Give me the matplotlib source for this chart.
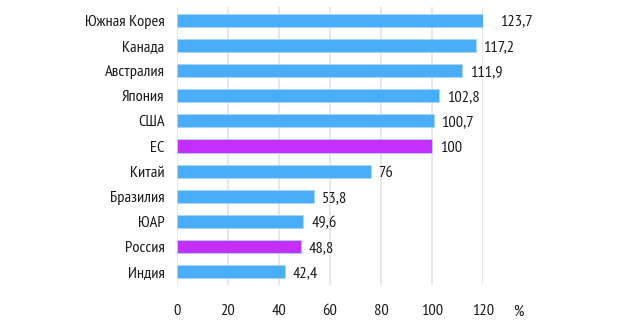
import matplotlib
matplotlib.use("Agg")
import matplotlib.pyplot as plt

categories = ["Южная Корея", "Канада", "Австралия", "Япония", "США", "ЕС",
              "Китай", "Бразилия", "ЮАР", "Россия", "Индия"]
values = [123.7, 117.2, 111.9, 102.8, 100.7, 100, 76, 53.8, 49.6, 48.8, 42.4]
labels = ["123,7", "117,2", "111,9", "102,8", "100,7", "100", "76", "53,8", "49,6", "48,8", "42,4"]
highlight = ["ЕС", "Россия"]
xticks = [0, 20, 40, 60, 80, 100, 120]

plt.rcParams['font.family'] = ["PT Sans Narrow", 'DejaVu Sans']

blue = "#4AADF8"
purple = "#C42EFF"
colors = [purple if c in highlight else blue for c in categories]
fs = 11.8
tc = "#1a1a1a"

fig = plt.figure(figsize=(6.17, 3.30), dpi=100)
ax = fig.add_axes([177/617, 1-285/330, (483-177)/617, (285-7)/330])

y = list(range(len(categories)))
ax.barh(y, values, height=0.52, color=colors, edgecolor="#A9D7FB", linewidth=0.6, zorder=3)
for i, (v, lab) in enumerate(zip(values, labels)):
    ax.text(v + 3, i + 0.06, lab, va="center", ha="left", fontsize=fs, color=tc)

ax.set_xlim(0, 120)
ax.set_ylim(len(categories) - 0.48, -0.52)
ax.set_yticks(y)
ax.set_yticklabels(categories, fontsize=fs, color=tc)
ax.set_xticks(xticks)
ax.set_xticklabels([str(t) for t in xticks], fontsize=fs, color=tc)
ax.tick_params(axis="both", length=0)
ax.tick_params(axis="y", pad=9)
ax.tick_params(axis="x", pad=14)
ax.grid(axis="x", color="#E3E3E3", linewidth=1.2, zorder=0)
for s in ax.spines.values():
    s.set_visible(False)
ax.annotate("%", xy=(134, 0), xycoords=("data", "axes fraction"),
            xytext=(0, -14), textcoords="offset points", ha="center", va="top",
            fontsize=fs, color=tc, annotation_clip=False)

fig.savefig("out.png", dpi=100)
